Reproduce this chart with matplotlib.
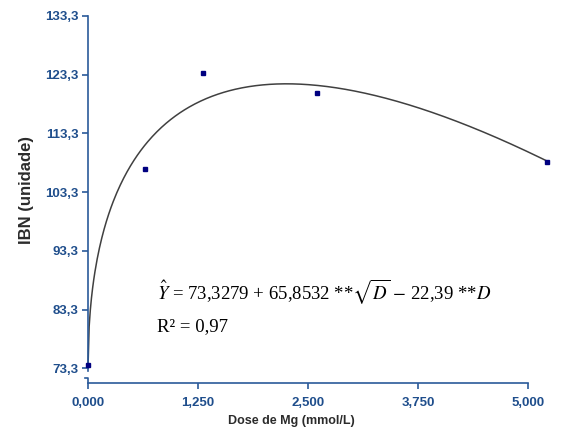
import numpy as np
import matplotlib
matplotlib.use("Agg")
import matplotlib.pyplot as plt
from matplotlib.lines import Line2D

# Observed data
dose = [0.0, 0.625, 1.25, 2.5, 5.0]
ibn = [73.8, 107.2, 123.6, 120.2, 108.4]

# Fitted model coefficients (from the equation shown)
b0, b1, b2 = 73.3279, 65.8532, -22.39

# Tick labels as printed
x_tick_labels = ["0,000", "1,250", "2,500", "3,750", "5,000"]
x_tick_pos = [0.0, 1.2, 2.4, 3.6, 4.8]
y_ticks = [73.3, 83.3, 93.3, 103.3, 113.3, 123.3, 133.3]
y_tick_labels = ["73,3", "83,3", "93,3", "103,3", "113,3", "123,3", "133,3"]

axis_blue = "#2A5A9A"
label_blue = "#1F4E8C"

plt.rcParams['mathtext.fontset'] = 'stix'

fig = plt.figure(figsize=(5.81, 4.32), dpi=100)
ax = fig.add_axes([88/581, 49/432, (565-88)/581, (383-16)/432])
ax.set_xlim(0, 5.2)
ax.set_ylim(70.8, 133.3)

d = np.linspace(0, max(dose), 400)
ax.plot(d, b0 + b1*np.sqrt(d) + b2*d, color="#404040", lw=1.1, clip_on=False)
ax.plot(dose, ibn, ls="none", marker="s", ms=2.6, color="#000080", clip_on=False, zorder=5)

for s in ["top", "right"]:
    ax.spines[s].set_visible(False)
ax.spines["left"].set_bounds(73.3, 133.3)
ax.spines["bottom"].set_bounds(0, 4.8)
ax.spines["left"].set_color(axis_blue)
ax.spines["bottom"].set_color(axis_blue)
ax.spines["left"].set_linewidth(1.2)
ax.spines["bottom"].set_linewidth(1.2)

ax.set_yticks(y_ticks)
ax.set_yticklabels(y_tick_labels)
ax.set_xticks(x_tick_pos)
ax.set_xticklabels(x_tick_labels)
ax.tick_params(axis="both", colors=axis_blue, length=4, width=1.2, direction="out")
for lab in ax.get_xticklabels() + ax.get_yticklabels():
    lab.set_fontfamily("Liberation Sans")
    lab.set_fontweight("bold")
    lab.set_fontsize(9.5)
    lab.set_color(label_blue)
ax.tick_params(axis="y", pad=3)
ax.tick_params(axis="x", pad=6)

# axis break mark near origin
trans = ax.transAxes
ax.add_line(Line2D([-0.007, 0.0, 0.0], [0.013, 0.013, 0.0], transform=trans,
                   color=axis_blue, lw=1.2, clip_on=False))
ax.add_line(Line2D([0.0, 0.0], [0.032, 0.04], transform=trans,
                   color=axis_blue, lw=1.2, clip_on=False))

fig.text(26/581, 1-190/432, "IBN (unidade)", fontfamily="Liberation Sans",
         fontweight="bold", fontsize=12, color="#2b2b2b", rotation=90,
         ha="center", va="center")
fig.text(291/581, 1-421/432, "Dose de Mg (mmol/L)", fontfamily="Liberation Sans",
         fontweight="bold", fontsize=9, color="#2b2b2b", ha="center", va="center")

fig.text(157/581, 1-299/432,
         r"$\hat{Y}$ = 73,3279 + 65,8532 **$\sqrt{D}$ $-$ 22,39 **$D$",
         fontfamily="Liberation Serif", fontsize=13.5, color="black")
fig.text(157/581, 1-331/432, "R² = 0,97", fontfamily="Liberation Serif",
         fontsize=13.5, color="black")

fig.savefig("out.png", dpi=100)
